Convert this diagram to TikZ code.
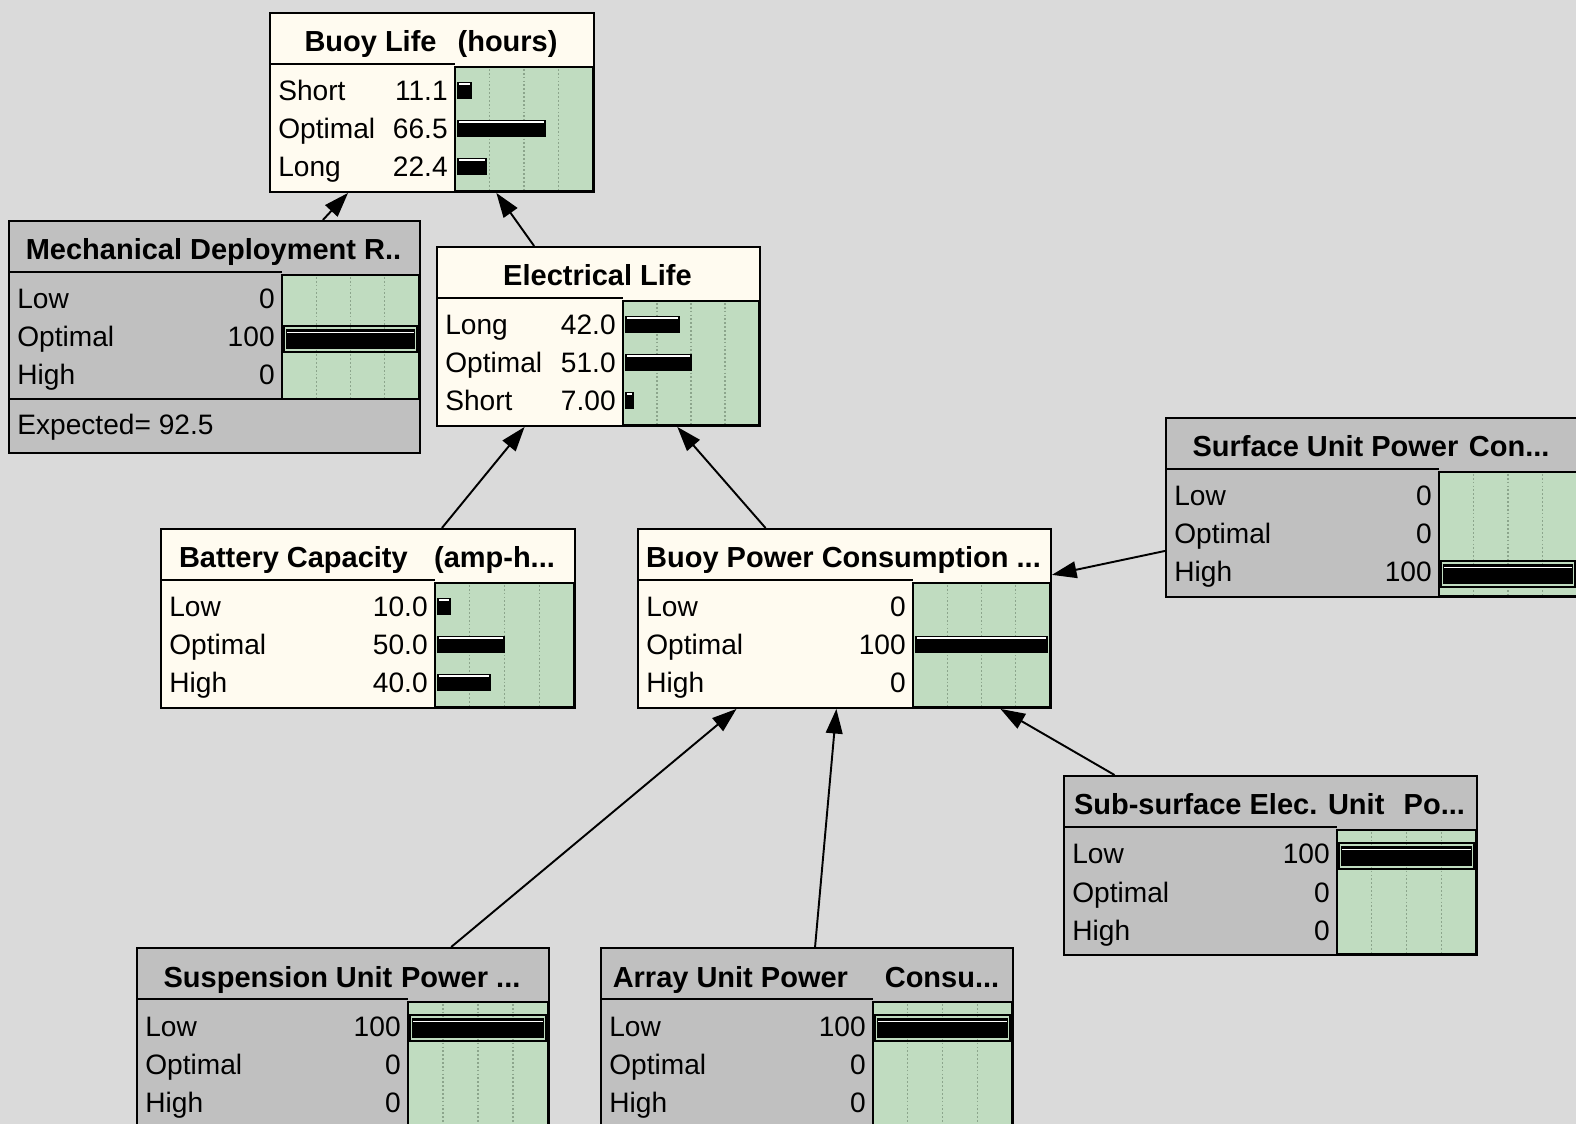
\documentclass[tikz,border=0pt]{standalone}
\usepackage{fontspec}
\setmainfont{Liberation Sans}
\usetikzlibrary{arrows.meta}

\definecolor{canvas}{RGB}{218,218,218}
\definecolor{cream}{RGB}{255,251,240}
\definecolor{obsgray}{RGB}{192,192,192}
\definecolor{bargreen}{RGB}{192,220,192}
\definecolor{gridgreen}{RGB}{140,165,140}

% name, left, top, width, height, bar offset, fill, title, rows
\newcommand{\bnbox}[9]{%
  \begin{scope}[shift={(#2,#3)}]
    \node[netbox, fill=#7, minimum width={#4*0.02cm}, minimum height={#5*0.02cm}] (#1) at (0,0) {};
    \node[titletext] at ({#4/2},40) {#8};
    \draw[divider] (0,52) -- (#6,52);
    \draw[divider, fill=bargreen] (#6,55) rectangle (#4,179);
    \foreach \g in {0.25,0.5,0.75}
      \draw[gridline] ({#6+(#4-#6)*\g},57) -- ({#6+(#4-#6)*\g},178);
    \foreach \lab/\val/\pct/\ev [count=\i] in {#9} {
      \pgfmathsetmacro\by{89+38*(\i-1)}
      \node[rowtext, anchor=base west] at (9,\by) {\lab};
      \node[rowtext, anchor=base east] at ({#6-7},\by) {\val};
      \ifnum\ev=1
        \draw[line width=0.8pt] ({#6+2},{\by-21}) rectangle ({#4-2},{\by+5});
        \fill ({#6+4},{\by-18}) rectangle ({#4-4},{\by+2});
        \draw[white, line width=0.5pt] ({#6+5},{\by-15}) -- ({#4-5},{\by-15});
      \else\ifdim\pct pt>0pt
        \fill ({#6+2},{\by-19}) rectangle ({#6+2+(#4-#6-4)*\pct/100},{\by-2});
        \draw[white, line width=0.6pt] ({#6+4},{\by-17}) -- ({#6+(#4-#6-4)*\pct/100},{\by-17});
      \fi\fi
    }
  \end{scope}}

\begin{document}
\begin{tikzpicture}[x=0.02cm, y=-0.02cm,
    netbox/.style={draw, line width=1.1pt, anchor=north west, inner sep=0},
    titletext/.style={font=\bfseries\fontsize{16.5}{20}\selectfont, inner sep=0, anchor=base},
    rowtext/.style={font=\fontsize{16}{19}\selectfont, inner sep=0},
    divider/.style={line width=1.1pt},
    gridline/.style={draw=gridgreen, dash pattern=on 1pt off 1.2pt, line width=0.6pt},
    infarc/.style={-{Triangle[length=14pt,width=9.5pt]}, line width=1.1pt}]
  \useasboundingbox (0,0) rectangle (1576,1124);
  \clip (0,0) rectangle (1576,1124);
  \fill[canvas] (0,0) rectangle (1576,1124);

  \bnbox{blife}{269}{12}{324}{179}{186}{cream}{Buoy Life\hspace{12pt}(hours)}
    {Short/11.1/11.1/0, Optimal/66.5/66.5/0, Long/22.4/22.4/0}
  \bnbox{elife}{436}{246}{323}{179}{187}{cream}{Electrical Life}
    {Long/42.0/42.0/0, Optimal/51.0/51.0/0, Short/7.00/7/0}
  \bnbox{mech}{8}{220}{411}{232}{274}{obsgray}{Mechanical Deployment R..}
    {Low/0/0/0, Optimal/100/100/1, High/0/0/0}
  \draw[divider] (8,399) -- (419,399);
  \node[rowtext, anchor=base west] (mechexp) at (17,435) {Expected= 92.5};
  \bnbox{battery}{160}{528}{414}{179}{275}{cream}{Battery Capacity\hspace{15pt}(amp-h...}
    {Low/10.0/10/0, Optimal/50.0/50/0, High/40.0/40/0}
  \bnbox{bpc}{637}{528}{413}{179}{276}{cream}{Buoy Power Consumption ...}
    {Low/0/0/0, Optimal/100/100/0, High/0/0/0}
  \bnbox{surface}{1165}{417}{412}{179}{274}{obsgray}{Surface Unit Power\hspace{6pt}Con...}
    {Low/0/0/0, Optimal/0/0/0, High/100/100/1}
  \bnbox{subsurf}{1063}{775}{413}{179}{274}{obsgray}{Sub-surface Elec. Unit\hspace{11pt}Po...}
    {Low/100/100/1, Optimal/0/0/0, High/0/0/0}
  \bnbox{susp}{136}{947}{412}{179}{272}{obsgray}{Suspension Unit\hspace{5pt}Power ...}
    {Low/100/100/1, Optimal/0/0/0, High/0/0/0}
  \bnbox{array}{600}{947}{412}{179}{273}{obsgray}{Array Unit Power\hspace{21pt}Consu...}
    {Low/100/100/1, Optimal/0/0/0, High/0/0/0}

  % links point from parent evidence towards the child
  \draw[infarc] (mech) -- (blife);
  \draw[infarc] (elife) -- (blife);
  \draw[infarc] (battery) -- (elife);
  \draw[infarc] (bpc) -- (elife);
  \draw[infarc] (surface) -- (bpc);
  \draw[infarc] (subsurf) -- (bpc);
  \draw[infarc] (susp) -- (bpc);
  \draw[infarc] (array) -- (bpc);
\end{tikzpicture}
\end{document}
